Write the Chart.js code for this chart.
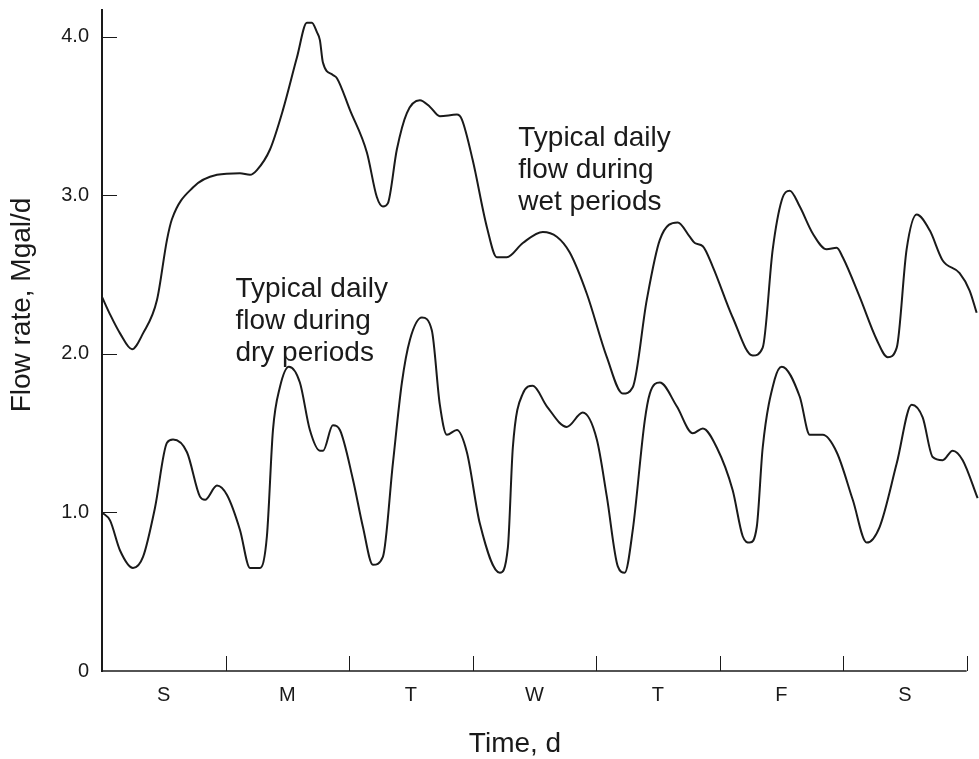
<!DOCTYPE html>
<html>
<head>
<meta charset="utf-8">
<script src="https://cdn.jsdelivr.net/npm/chart.js@4.4.1/dist/chart.umd.min.js"></script>
<style>
  html, body { margin: 0; padding: 0; background: #fff; }
  #wrap { width: 979px; height: 759px; position: relative; }
</style>
</head>
<body>
<div id="wrap"><canvas id="flowChart"></canvas></div>
<script>
// Daily flow pattern over one week, wet vs dry periods.
// Values (day since Sunday 0:00, Mgal/d).

const DAY_LABELS = ['S', 'M', 'T', 'W', 'T', 'F', 'S'];
const Y_TICKS = [0, 1, 2, 3, 4];

const wetTime = [0, 0.065, 0.146, 0.243, 0.332, 0.445, 0.526, 0.566, 0.736, 0.931,
  1.117, 1.198, 1.254, 1.36, 1.465, 1.578, 1.659, 1.699, 1.74, 1.764,
  1.788, 1.869, 1.902, 2.007, 2.145, 2.225, 2.274, 2.314, 2.387, 2.468,
  2.573, 2.654, 2.735, 2.873, 2.913, 3.002, 3.116, 3.197, 3.277, 3.407,
  3.569, 3.682, 3.787, 3.925, 4.087, 4.216, 4.297, 4.41, 4.516, 4.661,
  4.758, 4.799, 4.864, 4.945, 5.106, 5.268, 5.349, 5.43, 5.503, 5.568,
  5.649, 5.754, 5.867, 5.948, 5.997, 6.134, 6.272, 6.361, 6.434, 6.514,
  6.595, 6.701, 6.806, 6.943, 7.024, 7.081];
const wetFlow = [2.36, 2.25, 2.13, 2.03, 2.13, 2.34, 2.72, 2.85, 3.05, 3.13,
  3.14, 3.13, 3.16, 3.29, 3.54, 3.87, 4.09, 4.09, 4.03, 3.98,
  3.84, 3.76, 3.74, 3.54, 3.27, 2.99, 2.93, 2.95, 3.29, 3.52,
  3.60, 3.56, 3.50, 3.51, 3.48, 3.22, 2.80, 2.61, 2.61, 2.70,
  2.77, 2.74, 2.64, 2.38, 1.98, 1.75, 1.79, 2.34, 2.72, 2.83,
  2.74, 2.70, 2.68, 2.55, 2.23, 1.99, 2.04, 2.66, 2.97, 3.03,
  2.93, 2.76, 2.66, 2.67, 2.61, 2.36, 2.09, 1.98, 2.04, 2.66,
  2.88, 2.78, 2.59, 2.51, 2.40, 2.26];

const dryTime = [0, 0.065, 0.146, 0.251, 0.332, 0.429, 0.526, 0.575, 0.688, 0.793,
  0.834, 0.931, 1.012, 1.117, 1.198, 1.279, 1.335, 1.384, 1.44, 1.513,
  1.602, 1.683, 1.764, 1.79, 1.869, 1.926, 2.031, 2.112, 2.193, 2.274,
  2.355, 2.428, 2.493, 2.59, 2.67, 2.735, 2.792, 2.873, 2.954, 3.059,
  3.221, 3.286, 3.326, 3.407, 3.488, 3.601, 3.763, 3.892, 4.006, 4.087,
  4.176, 4.232, 4.297, 4.394, 4.435, 4.516, 4.653, 4.783, 4.864, 4.977,
  5.106, 5.187, 5.244, 5.301, 5.349, 5.446, 5.503, 5.649, 5.73, 5.835,
  5.948, 6.078, 6.191, 6.296, 6.434, 6.555, 6.644, 6.725, 6.806, 6.887,
  6.968, 7.089];
const dryFlow = [1.00, 0.95, 0.76, 0.65, 0.72, 1.03, 1.44, 1.46, 1.38, 1.10,
  1.08, 1.17, 1.11, 0.89, 0.65, 0.65, 0.85, 1.52, 1.79, 1.92,
  1.82, 1.52, 1.39, 1.39, 1.55, 1.52, 1.21, 0.91, 0.67, 0.72,
  1.31, 1.82, 2.09, 2.23, 2.15, 1.68, 1.49, 1.52, 1.38, 0.93,
  0.62, 0.78, 1.41, 1.75, 1.80, 1.67, 1.54, 1.63, 1.46, 1.10,
  0.66, 0.62, 0.89, 1.58, 1.75, 1.82, 1.67, 1.50, 1.53, 1.41,
  1.14, 0.85, 0.81, 0.91, 1.41, 1.84, 1.92, 1.73, 1.49, 1.49,
  1.38, 1.08, 0.81, 0.91, 1.31, 1.68, 1.60, 1.35, 1.33, 1.39,
  1.33, 1.09];

const X_TITLE = 'Time, d';
const Y_TITLE = 'Flow rate, Mgal/d';

// text notes placed in data coordinates (left edge, first baseline)
const NOTES = [
  { lines: ['Typical daily', 'flow during', 'dry periods'], day: 1.08, flow: 2.36 },
  { lines: ['Typical daily', 'flow during', 'wet periods'], day: 3.37, flow: 3.31 }
];

const INK = '#1a1a1a';
const FONT = '"Liberation Sans", Arial, Helvetica, sans-serif';

function toPoints(xs, ys) {
  return xs.map((x, i) => ({ x: x, y: ys[i] }));
}

// draws the inward tick marks, the x axis line, axis titles and the curve notes
const inkPlugin = {
  id: 'ink',
  afterDatasetsDraw(chart) {
    const { ctx, chartArea, scales: { x, y } } = chart;
    const x0 = x.getPixelForValue(0);
    const y0 = y.getPixelForValue(0);
    ctx.save();
    ctx.strokeStyle = INK;
    ctx.lineWidth = 1.5;
    ctx.beginPath();
    ctx.moveTo(x0, y0);
    ctx.lineTo(x.getPixelForValue(DAY_LABELS.length), y0);
    ctx.stroke();

    ctx.lineWidth = 1;
    ctx.beginPath();
    for (let d = 1; d <= DAY_LABELS.length; d++) {
      const px = Math.round(x.getPixelForValue(d)) + 0.5;
      ctx.moveTo(px, y0);
      ctx.lineTo(px, y0 - 15);
    }
    Y_TICKS.slice(1).forEach(v => {
      const py = Math.round(y.getPixelForValue(v)) + 0.5;
      ctx.moveTo(x0, py);
      ctx.lineTo(x0 + 15, py);
    });
    ctx.stroke();

    ctx.fillStyle = INK;
    ctx.font = '28px ' + FONT;
    ctx.textAlign = 'left';
    ctx.textBaseline = 'alphabetic';
    NOTES.forEach(n => {
      const px = x.getPixelForValue(n.day);
      const py = y.getPixelForValue(n.flow);
      n.lines.forEach((t, i) => ctx.fillText(t, px, py + i * 32));
    });

    // axis titles sit a little off-centre in the original figure
    ctx.textAlign = 'center';
    ctx.textBaseline = 'middle';
    ctx.font = '28px ' + FONT;
    ctx.fillText(X_TITLE, chartArea.left + 413, chartArea.bottom + 73);
    ctx.translate(chartArea.left - 80, chartArea.top + 295);
    ctx.rotate(-Math.PI / 2);
    ctx.fillText(Y_TITLE, 0, 0);
    ctx.restore();
  }
};

const lineStyle = {
  borderColor: INK,
  borderWidth: 2,
  pointRadius: 0,
  fill: false,
  cubicInterpolationMode: 'monotone'
};

new Chart(document.getElementById('flowChart'), {
  type: 'line',
  data: {
    datasets: [
      Object.assign({ label: 'Wet periods', data: toPoints(wetTime, wetFlow) }, lineStyle),
      Object.assign({ label: 'Dry periods', data: toPoints(dryTime, dryFlow) }, lineStyle)
    ]
  },
  options: {
    responsive: true,
    maintainAspectRatio: false,
    animation: false,
    layout: { padding: { top: 10, right: 0, left: 0, bottom: 0 } },
    plugins: {
      legend: { display: false },
      tooltip: { enabled: false }
    },
    scales: {
      x: {
        type: 'linear',
        min: 0,
        max: 7.1,
        afterFit: s => { s.height = 88; s.paddingLeft = 0; s.paddingRight = 0; },
        afterBuildTicks: s => { s.ticks = DAY_LABELS.map((_, i) => ({ value: i + 0.5 })); },
        grid: { display: false },
        border: { display: false },
        ticks: {
          autoSkip: false,
          maxRotation: 0,
          padding: 4,
          color: INK,
          font: { family: FONT, size: 20 },
          callback: (v, i) => DAY_LABELS[i]
        }
      },
      y: {
        min: 0,
        max: 4.17,
        afterFit: s => { s.width = 102; s.paddingTop = 0; s.paddingBottom = 0; },
        afterBuildTicks: s => { s.ticks = Y_TICKS.map(v => ({ value: v })); },
        grid: { display: false },
        border: { display: true, color: INK, width: 2 },
        ticks: {
          padding: 5,
          color: INK,
          font: { family: FONT, size: 20 },
          callback: v => (v === 0 ? '0' : v.toFixed(1))
        }
      }
    }
  },
  plugins: [inkPlugin]
});
</script>
</body>
</html>
